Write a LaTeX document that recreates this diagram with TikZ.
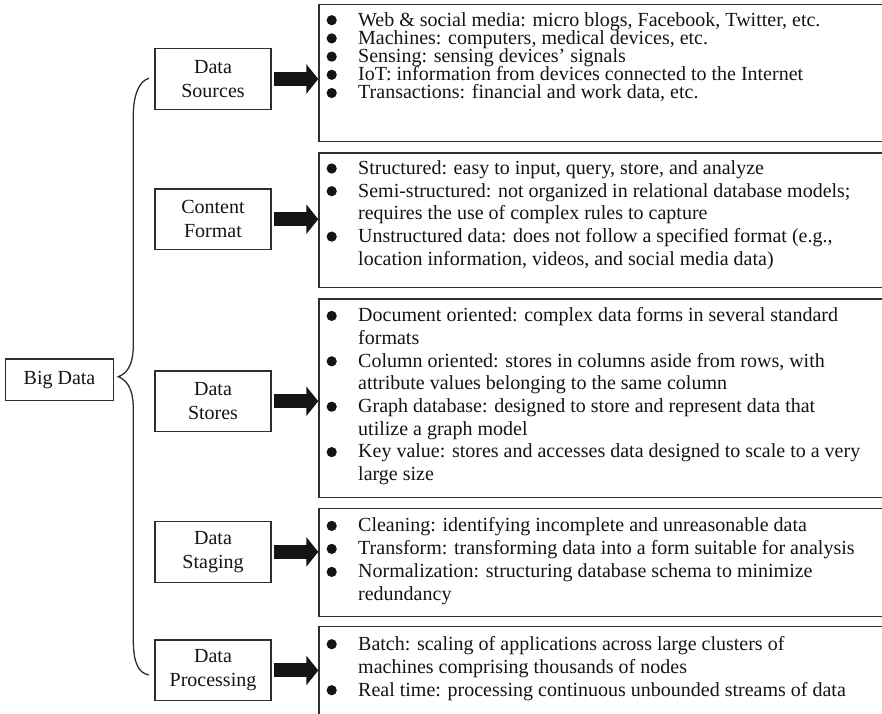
\documentclass[tikz,border=0pt]{standalone}
\usepackage{fontspec}
\setmainfont{Liberation Serif}
\usetikzlibrary{arrows.meta}
\definecolor{ink}{HTML}{141414}
\definecolor{frame}{HTML}{2E2E2E}
\tikzset{
  catbox/.style={draw=frame, line width=1.3pt, minimum width=116pt, minimum height=60.6pt,
    align=center, inner sep=0pt, text=ink, font=\fontsize{20}{24}\selectfont},
  listbox/.style={draw=frame, line width=1.3pt, minimum width=620pt, anchor=north west, inner sep=0pt},
  itemtext/.style={anchor=base west, inner sep=0pt, text=ink, font=\fontsize{20}{24}\selectfont},
  bigarrow/.style={draw=ink, line width=14pt, -{Triangle[length=12pt,width=29pt]}},
  bracepath/.style={draw=frame, line width=1.3pt},
}
% a bulleted first line and a continuation line of a list item
\newcommand\bulletline[3]{%
  \fill[ink] (331.7,#2-5.8) circle[radius=5.1pt];
  \node[itemtext] (#1) at (358,#2) {#3};}
\newcommand\contline[3]{\node[itemtext] (#1) at (358,#2) {#3};}

\begin{document}
\begin{tikzpicture}[x=1pt, y=-1pt]
\useasboundingbox (0,0) rectangle (882,713);
\clip (0,0) rectangle (882,713);

% root and categories
\node[catbox, minimum width=107.6pt, minimum height=41.3pt] (big) at (59.5,379.7) {Big Data};
\node[catbox] (src) at (213,79)    {Data\\Sources};
\node[catbox] (fmt) at (213,219.2) {Content\\Format};
\node[catbox] (sto) at (213,401.2) {Data\\Stores};
\node[catbox] (stg) at (213,551.9) {Data\\Staging};
\node[catbox] (prc) at (213,670.4) {Data\\Processing};

% brace joining the root to the categories
\coordinate (bTop) at (149,78.3);
\coordinate (bMid) at (118.3,376.7);
\coordinate (bBot) at (149,675);
\draw[bracepath] (bTop) .. controls (139,81) and (133.3,95) .. (133.3,116)
  -- (133.3,345) .. controls (133.3,368) and (125,374) .. (bMid)
  .. controls (125,379.5) and (133.3,386) .. (133.3,409)
  -- (133.3,640) .. controls (133.3,664) and (139,673) .. (bBot);

% description frames
\node[listbox, minimum height=136.7pt] (rb1) at (318.3,4) {};
\node[listbox, minimum height=134.4pt] (rb2) at (318.3,152.3) {};
\node[listbox, minimum height=198.4pt] (rb3) at (318.3,298.3) {};
\node[listbox, minimum height=108.2pt] (rb4) at (318.3,507.5) {};
\node[listbox, minimum height=120pt]   (rb5) at (318.3,625.7) {};

% arrows from categories to frames
\draw[bigarrow] ([xshift=2pt]src.east) -- (src.east -| rb1.west);
\draw[bigarrow] ([xshift=2pt]fmt.east) -- (fmt.east -| rb2.west);
\draw[bigarrow] ([xshift=2pt]sto.east) -- (sto.east -| rb3.west);
\draw[bigarrow] ([xshift=2pt]stg.east) -- (stg.east -| rb4.west);
\draw[bigarrow] ([xshift=2pt]prc.east) -- (prc.east -| rb5.west);

% Data Sources
\bulletline{a1}{26}{Web \& social media: micro blogs, Facebook, Twitter, etc.}
\bulletline{a2}{44.2}{Machines: computers, medical devices, etc.}
\bulletline{a3}{62.4}{Sensing: sensing devices’ signals}
\bulletline{a4}{80.6}{IoT: information from devices connected to the Internet}
\bulletline{a5}{98.8}{Transactions: financial and work data, etc.}

% Content Format
\bulletline{b1}{174.3}{Structured: easy to input, query, store, and analyze}
\bulletline{b2}{197}{Semi-structured: not organized in relational database models;}
\contline{b3}{219.7}{requires the use of complex rules to capture}
\bulletline{b4}{242.4}{Unstructured data: does not follow a specified format (e.g.,}
\contline{b5}{265.1}{location information, videos, and social media data)}

% Data Stores
\bulletline{c1}{321.7}{Document oriented: complex data forms in several standard}
\contline{c2}{344.4}{formats}
\bulletline{c3}{367.1}{Column oriented: stores in columns aside from rows, with}
\contline{c4}{389.8}{attribute values belonging to the same column}
\bulletline{c5}{412.5}{Graph database: designed to store and represent data that}
\contline{c6}{435.2}{utilize a graph model}
\bulletline{c7}{457.9}{Key value: stores and accesses data designed to scale to a very}
\contline{c8}{480.6}{large size}

% Data Staging
\bulletline{d1}{531.7}{Cleaning: identifying incomplete and unreasonable data}
\bulletline{d2}{554.7}{Transform: transforming data into a form suitable for analysis}
\bulletline{d3}{577.7}{Normalization: structuring database schema to minimize}
\contline{d4}{600.7}{redundancy}

% Data Processing
\bulletline{e1}{650}{Batch: scaling of applications across large clusters of}
\contline{e2}{673}{machines comprising thousands of nodes}
\bulletline{e3}{696}{Real time: processing continuous unbounded streams of data}
\end{tikzpicture}
\end{document}
